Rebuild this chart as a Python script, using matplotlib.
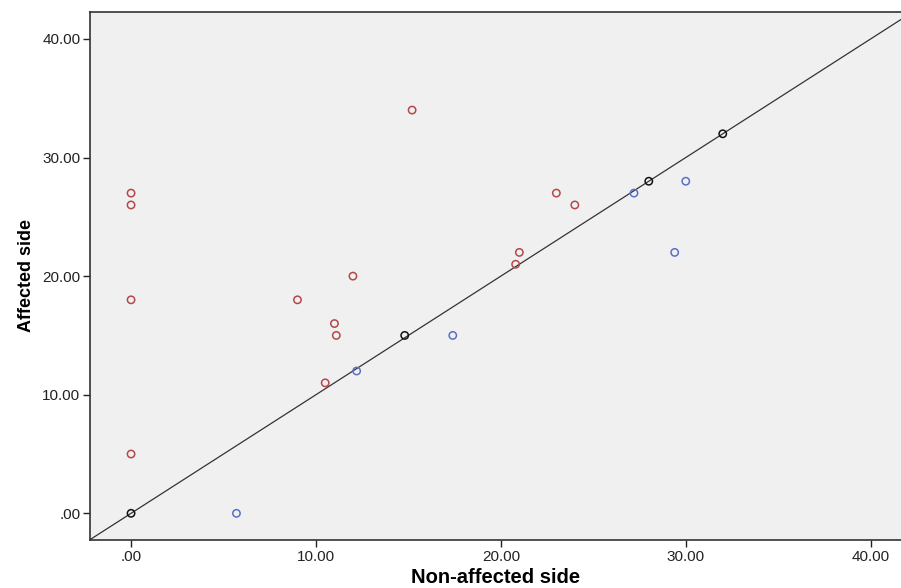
import matplotlib
matplotlib.use("Agg")
import matplotlib.pyplot as plt  # noqa
from matplotlib.ticker import FuncFormatter

# Points (non-affected side, affected side)
red_x = [0, 0, 0, 0, 15.2, 9.0, 12.0, 11.0, 11.1, 10.5, 23.0, 24.0, 21.0, 20.8]
red_y = [27, 26, 18, 5, 34, 18, 20, 16, 15, 11, 27, 26, 22, 21]
blue_x = [5.7, 12.2, 17.4, 27.2, 30.0, 29.4]
blue_y = [0, 12, 15, 27, 28, 22]
black_x = [0, 14.8, 28.0, 32.0]
black_y = [0, 15, 28, 32]
ticks = [0, 10, 20, 30, 40]

plt.rcParams["font.family"] = ["Liberation Sans", "DejaVu Sans"]

fig = plt.figure(figsize=(9.01, 5.88), dpi=100)
ax = fig.add_axes([90 / 901, 48 / 588, 811 / 901, 528 / 588])
ax.set_facecolor("#f0f0f0")

xlim = (-2.22, 41.64)
ylim = (-2.25, 42.27)
# reference line y = x
ax.plot([-5, 50], [-5, 50], color="#333333", linewidth=0.9, zorder=1)

style = dict(marker="o", s=28, facecolors="none", linewidths=1.1, zorder=3)
ax.scatter(red_x, red_y, edgecolors="#b5474b", **style)
ax.scatter(blue_x, blue_y, edgecolors="#5b6fc8", **style)
ax.scatter(black_x, black_y, edgecolors="#111111", **style)

ax.set_xlim(*xlim)
ax.set_ylim(*ylim)
ax.set_xticks(ticks)
ax.set_yticks(ticks)
fmt = FuncFormatter(lambda v, p: ".00" if v == 0 else f"{v:.2f}")
ax.xaxis.set_major_formatter(fmt)
ax.yaxis.set_major_formatter(fmt)
ax.tick_params(labelsize=11, colors="#222222", length=5, width=1, pad=2)

for side in ["left", "bottom", "top"]:
    ax.spines[side].set_color("#333333")
    ax.spines[side].set_linewidth(1.2)
ax.spines["right"].set_visible(False)

ax.set_xlabel("Non-affected side", fontsize=14.5, fontweight="bold", labelpad=3)
ax.set_ylabel("Affected side", fontsize=13, fontweight="bold", labelpad=5)

fig.savefig("out.png", dpi=100)
